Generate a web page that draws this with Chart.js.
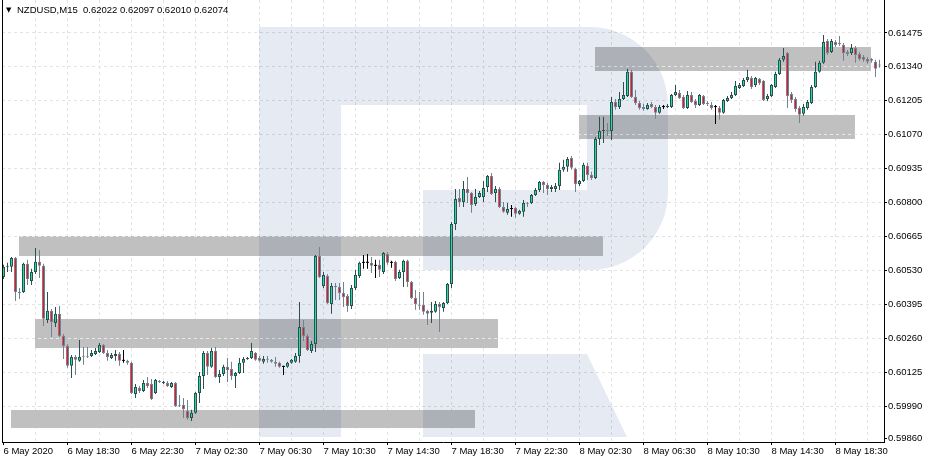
<!DOCTYPE html>
<html>
<head>
<meta charset="utf-8">
<script src="https://cdn.jsdelivr.net/npm/chart.js@4.4.1/dist/chart.umd.min.js"></script>
<style>
html,body{margin:0;padding:0;background:#fff;overflow:hidden}
canvas{display:block}
</style>
</head>
<body>
<canvas id="c" width="929" height="463" style="width:929px;height:463px"></canvas>
<script>
// ---- header text ----
const symbolTitle = 'NZDUSD,M15  0.62022 0.62097 0.62010 0.62074';

// ---- x axis: 15-minute bars, first bar 6 May 2020 14:30 ----
const xLabelBars = [0,16,32,48,64,80,96,112,128,144,160,176,192,208];
const xTickLabels = ['6 May 2020','6 May 18:30','6 May 22:30','7 May 02:30','7 May 06:30','7 May 10:30',
  '7 May 14:30','7 May 18:30','7 May 22:30','8 May 02:30','8 May 06:30','8 May 10:30','8 May 14:30','8 May 18:30'];
const xGridStep = 8;

// ---- y axis ----
const yMin = 0.59847, yMax = 0.61606;
const yTickValues = [0.59860,0.59990,0.60125,0.60260,0.60395,0.60530,0.60665,0.60800,0.60935,0.61070,0.61205,0.61340,0.61475];

// ---- candles ----
const openP = [
0.60504,0.60544,0.60544,0.60579,0.60444,0.60444,0.60556,0.60488,0.60524,0.60564,
0.60548,0.60333,0.60369,0.60321,0.60357,0.60269,0.60229,0.60150,0.60185,0.60170,
0.60189,0.60189,0.60189,0.60197,0.60205,0.60233,0.60201,0.60181,0.60189,0.60197,
0.60170,0.60170,0.60162,0.60038,0.60062,0.60050,0.60082,0.60078,0.60042,0.60090,
0.60082,0.60082,0.60066,0.60082,0.59994,0.59994,0.59971,0.59943,0.59963,0.60042,
0.60110,0.60201,0.60146,0.60209,0.60106,0.60118,0.60146,0.60138,0.60110,0.60122,
0.60162,0.60177,0.60181,0.60201,0.60181,0.60166,0.60177,0.60174,0.60166,0.60162,
0.60146,0.60146,0.60162,0.60166,0.60189,0.60305,0.60269,0.60209,0.60237,0.60587,
0.60468,0.60508,0.60396,0.60468,0.60464,0.60440,0.60428,0.60388,0.60460,0.60508,
0.60560,0.60560,0.60560,0.60548,0.60552,0.60524,0.60595,0.60560,0.60564,0.60500,
0.60524,0.60568,0.60484,0.60420,0.60392,0.60392,0.60369,0.60361,0.60365,0.60396,
0.60380,0.60400,0.60476,0.60715,0.60818,0.60802,0.60854,0.60838,0.60794,0.60822,
0.60822,0.60862,0.60906,0.60838,0.60854,0.60782,0.60759,0.60774,0.60778,0.60755,
0.60763,0.60798,0.60798,0.60830,0.60850,0.60882,0.60870,0.60854,0.60854,0.60866,
0.60930,0.60942,0.60977,0.60934,0.60874,0.60886,0.60946,0.60910,0.60898,0.61053,
0.61085,0.61089,0.61085,0.61200,0.61180,0.61212,0.61224,0.61320,0.61220,0.61196,
0.61180,0.61172,0.61192,0.61180,0.61157,0.61180,0.61180,0.61180,0.61228,0.61236,
0.61220,0.61176,0.61228,0.61204,0.61188,0.61224,0.61196,0.61188,0.61180,0.61176,
0.61157,0.61204,0.61216,0.61228,0.61256,0.61264,0.61288,0.61296,0.61268,0.61292,
0.61284,0.61212,0.61224,0.61260,0.61312,0.61368,0.61395,0.61232,0.61212,0.61176,
0.61153,0.61176,0.61196,0.61260,0.61320,0.61356,0.61443,0.61399,0.61439,0.61435,
0.61427,0.61399,0.61395,0.61415,0.61391,0.61379,0.61371,0.61371,0.61360,0.61348];
const highP = [
0.60552,0.60560,0.60583,0.60583,0.60460,0.60560,0.60572,0.60536,0.60619,0.60611,
0.60556,0.60444,0.60376,0.60384,0.60388,0.60277,0.60237,0.60193,0.60193,0.60253,
0.60225,0.60225,0.60213,0.60221,0.60241,0.60237,0.60213,0.60201,0.60213,0.60205,
0.60213,0.60174,0.60166,0.60078,0.60070,0.60094,0.60106,0.60098,0.60098,0.60094,
0.60090,0.60090,0.60086,0.60086,0.60034,0.60022,0.60014,0.59975,0.60046,0.60126,
0.60209,0.60209,0.60221,0.60225,0.60134,0.60154,0.60181,0.60166,0.60126,0.60181,
0.60185,0.60185,0.60241,0.60205,0.60189,0.60189,0.60189,0.60177,0.60185,0.60166,
0.60150,0.60166,0.60177,0.60201,0.60404,0.60333,0.60277,0.60249,0.60591,0.60623,
0.60524,0.60516,0.60480,0.60480,0.60480,0.60484,0.60436,0.60472,0.60532,0.60564,
0.60591,0.60595,0.60583,0.60572,0.60572,0.60603,0.60603,0.60568,0.60568,0.60532,
0.60572,0.60572,0.60488,0.60452,0.60444,0.60444,0.60373,0.60404,0.60408,0.60404,
0.60404,0.60480,0.60723,0.60854,0.60854,0.60886,0.60902,0.60842,0.60854,0.60846,
0.60886,0.60910,0.60918,0.60866,0.60862,0.60802,0.60798,0.60790,0.60782,0.60771,
0.60810,0.60802,0.60834,0.60858,0.60886,0.60886,0.60878,0.60870,0.60878,0.60958,
0.60970,0.60981,0.60985,0.60938,0.60890,0.60958,0.60958,0.60922,0.61061,0.61141,
0.61141,0.61117,0.61220,0.61212,0.61240,0.61280,0.61332,0.61328,0.61248,0.61204,
0.61192,0.61196,0.61200,0.61188,0.61188,0.61188,0.61192,0.61232,0.61268,0.61248,
0.61228,0.61244,0.61240,0.61212,0.61232,0.61228,0.61204,0.61200,0.61188,0.61184,
0.61212,0.61224,0.61240,0.61284,0.61276,0.61296,0.61328,0.61304,0.61300,0.61296,
0.61288,0.61232,0.61272,0.61320,0.61375,0.61415,0.61399,0.61240,0.61220,0.61184,
0.61192,0.61208,0.61268,0.61360,0.61364,0.61467,0.61451,0.61451,0.61447,0.61463,
0.61435,0.61407,0.61431,0.61423,0.61399,0.61387,0.61379,0.61375,0.61368,0.61368];
const lowP = [
0.60496,0.60524,0.60524,0.60408,0.60416,0.60440,0.60472,0.60472,0.60516,0.60500,
0.60309,0.60321,0.60265,0.60305,0.60265,0.60177,0.60142,0.60102,0.60114,0.60166,
0.60154,0.60181,0.60185,0.60193,0.60201,0.60197,0.60170,0.60177,0.60170,0.60150,
0.60162,0.60154,0.60038,0.60022,0.60042,0.60046,0.60062,0.60014,0.60038,0.60082,
0.60078,0.60066,0.60062,0.59986,0.59986,0.59943,0.59935,0.59931,0.59959,0.60002,
0.60058,0.60114,0.60142,0.60102,0.60082,0.60110,0.60086,0.60094,0.60062,0.60118,
0.60122,0.60174,0.60177,0.60170,0.60166,0.60158,0.60162,0.60162,0.60146,0.60142,
0.60114,0.60142,0.60158,0.60162,0.60162,0.60249,0.60209,0.60201,0.60205,0.60500,
0.60460,0.60396,0.60357,0.60412,0.60412,0.60384,0.60365,0.60376,0.60452,0.60500,
0.60536,0.60536,0.60520,0.60500,0.60504,0.60516,0.60552,0.60540,0.60488,0.60496,
0.60464,0.60464,0.60416,0.60373,0.60373,0.60353,0.60313,0.60321,0.60361,0.60285,
0.60365,0.60396,0.60460,0.60691,0.60782,0.60782,0.60798,0.60759,0.60786,0.60818,
0.60802,0.60842,0.60830,0.60802,0.60778,0.60759,0.60751,0.60743,0.60739,0.60751,
0.60743,0.60782,0.60794,0.60826,0.60842,0.60838,0.60830,0.60842,0.60842,0.60850,
0.60922,0.60922,0.60930,0.60842,0.60866,0.60882,0.60890,0.60890,0.60894,0.61029,
0.61037,0.61065,0.61049,0.61169,0.61172,0.61208,0.61220,0.61216,0.61188,0.61169,
0.61165,0.61169,0.61176,0.61133,0.61153,0.61172,0.61176,0.61176,0.61224,0.61212,
0.61172,0.61172,0.61196,0.61176,0.61184,0.61188,0.61184,0.61169,0.61113,0.61129,
0.61153,0.61200,0.61212,0.61224,0.61252,0.61260,0.61280,0.61252,0.61260,0.61268,
0.61204,0.61204,0.61220,0.61256,0.61308,0.61360,0.61176,0.61196,0.61161,0.61117,
0.61145,0.61169,0.61192,0.61256,0.61316,0.61352,0.61387,0.61395,0.61419,0.61423,
0.61364,0.61383,0.61387,0.61356,0.61364,0.61360,0.61352,0.61356,0.61300,0.61336];
const closeP = [
0.60544,0.60548,0.60579,0.60444,0.60440,0.60556,0.60496,0.60524,0.60564,0.60548,
0.60337,0.60369,0.60325,0.60357,0.60269,0.60229,0.60150,0.60185,0.60174,0.60185,
0.60186,0.60186,0.60201,0.60209,0.60233,0.60201,0.60185,0.60193,0.60197,0.60170,
0.60170,0.60162,0.60042,0.60066,0.60050,0.60082,0.60070,0.60018,0.60094,0.60086,
0.60086,0.60070,0.60082,0.59990,0.59991,0.59978,0.59943,0.59963,0.60042,0.60110,
0.60201,0.60146,0.60209,0.60106,0.60118,0.60146,0.60134,0.60110,0.60122,0.60162,
0.60177,0.60181,0.60209,0.60174,0.60170,0.60177,0.60174,0.60166,0.60158,0.60146,
0.60146,0.60162,0.60174,0.60189,0.60305,0.60269,0.60213,0.60237,0.60587,0.60504,
0.60512,0.60400,0.60468,0.60464,0.60440,0.60424,0.60388,0.60460,0.60512,0.60560,
0.60560,0.60560,0.60548,0.60548,0.60532,0.60599,0.60560,0.60560,0.60496,0.60524,
0.60568,0.60484,0.60420,0.60396,0.60389,0.60365,0.60357,0.60369,0.60396,0.60384,
0.60400,0.60476,0.60715,0.60814,0.60802,0.60854,0.60838,0.60790,0.60822,0.60838,
0.60858,0.60906,0.60834,0.60854,0.60782,0.60763,0.60774,0.60774,0.60755,0.60767,
0.60798,0.60795,0.60830,0.60850,0.60882,0.60870,0.60854,0.60862,0.60866,0.60930,
0.60942,0.60973,0.60938,0.60874,0.60886,0.60950,0.60910,0.60898,0.61053,0.61085,
0.61089,0.61085,0.61200,0.61180,0.61212,0.61228,0.61320,0.61220,0.61196,0.61176,
0.61172,0.61188,0.61180,0.61157,0.61180,0.61180,0.61184,0.61228,0.61240,0.61216,
0.61176,0.61228,0.61200,0.61188,0.61228,0.61192,0.61192,0.61176,0.61180,0.61157,
0.61208,0.61216,0.61228,0.61264,0.61268,0.61288,0.61300,0.61260,0.61296,0.61276,
0.61208,0.61224,0.61268,0.61312,0.61368,0.61383,0.61224,0.61208,0.61172,0.61149,
0.61180,0.61200,0.61260,0.61320,0.61356,0.61439,0.61395,0.61443,0.61427,0.61431,
0.61395,0.61391,0.61415,0.61387,0.61371,0.61368,0.61360,0.61364,0.61332,0.61345];

// ---- support / resistance zones (bar index span, price span) ----
const zoneStart = [3.875, 7.875, 1.875, 147.9, 143.9];
const zoneEnd   = [149.875, 123.6, 117.9, 216.9, 212.9];
const zoneHigh  = [0.60667, 0.60337, 0.59975, 0.61419, 0.61149];
const zoneLow   = [0.60587, 0.60221, 0.59903, 0.61324, 0.61053];

// ---- styling ----
const FONT = '"Liberation Sans", Arial, sans-serif';
const BULL_FILL = '#19e0a6', BULL_LINE = '#2f4f4f';
const BEAR_FILL = '#e8141e', BEAR_LINE = '#738291';
const DOJI = '#000000';
const GRID = '#e3e3e3';

const idx = openP.map((_, i) => i);
const dir = idx.map(i => closeP[i] > openP[i] ? 1 : (closeP[i] < openP[i] ? -1 : 0));
const wickData = idx.map(i => ({x: i, y: [lowP[i], highP[i]]}));
const bodyData = idx.map(i => ({x: i, y: [Math.min(openP[i], closeP[i]), Math.max(openP[i], closeP[i])]}));
const lineColor = i => dir[i] > 0 ? BULL_LINE : (dir[i] < 0 ? BEAR_LINE : DOJI);
const fillColor = i => dir[i] > 0 ? BULL_FILL : (dir[i] < 0 ? BEAR_FILL : DOJI);

const xGridTicks = [];
for (let v = 0; v <= 219; v += xGridStep) xGridTicks.push(v);

function alignPx(p) { return Math.round(p - 0.5) + 0.5; }

const backgroundPlugin = {
  id: 'bgObjects',
  beforeDatasetsDraw(chart) {
    const {ctx, chartArea: a, scales: {x, y}} = chart;
    ctx.save();
    ctx.beginPath();
    ctx.rect(a.left, a.top, a.right - a.left, a.bottom - a.top);
    ctx.clip();
    // zones
    zoneStart.forEach((s, k) => {
      const x1 = Math.round(x.getPixelForValue(s));
      const x2 = Math.round(x.getPixelForValue(zoneEnd[k]));
      const y1 = Math.round(y.getPixelForValue(zoneHigh[k]));
      const y2 = Math.round(y.getPixelForValue(zoneLow[k]));
      ctx.fillStyle = '#c0c0c0';
      ctx.fillRect(x1, y1, x2 - x1, y2 - y1);
      ctx.save();
      ctx.beginPath();
      ctx.rect(x1, y1, x2 - x1, y2 - y1);
      ctx.clip();
      ctx.strokeStyle = '#e9e9e9';
      ctx.lineWidth = 1;
      ctx.setLineDash([3, 3]);
      yTickValues.forEach((v, j) => {
        if (j === 0) return;
        const py = alignPx(y.getPixelForValue(v));
        ctx.beginPath();
        ctx.moveTo(a.left, py);
        ctx.lineTo(a.right, py);
        ctx.stroke();
      });
      ctx.restore();
    });
    // watermark logo (multiply blend)
    ctx.globalCompositeOperation = 'multiply';
    ctx.fillStyle = '#e6ebf3';
    ctx.beginPath();
    ctx.rect(259, 27, 82, 410);
    ctx.moveTo(340, 27);
    ctx.lineTo(590, 27);
    ctx.arcTo(668, 27, 668, 105, 78);
    ctx.lineTo(668, 192);
    ctx.arcTo(668, 270, 590, 270, 78);
    ctx.lineTo(423, 270);
    ctx.lineTo(423, 190);
    ctx.lineTo(587, 190);
    ctx.lineTo(587, 105);
    ctx.lineTo(340, 105);
    ctx.closePath();
    ctx.moveTo(423, 354);
    ctx.lineTo(587, 354);
    ctx.lineTo(627, 437);
    ctx.lineTo(423, 437);
    ctx.closePath();
    ctx.fill();
    ctx.restore();
  },
  afterDraw(chart) {
    const {ctx, chartArea: a} = chart;
    ctx.save();
    ctx.fillStyle = '#000';
    ctx.fillRect(2, 0, 1, a.bottom + 1);
    ctx.font = '7px "DejaVu Sans", sans-serif';
    ctx.textBaseline = 'middle';
    ctx.fillText('▼', 6, 10);
    ctx.font = '9.5px ' + FONT;
    ctx.fillText(symbolTitle, 17, 10);
    ctx.restore();
  }
};

new Chart(document.getElementById('c'), {
  type: 'bar',
  data: {
    datasets: [
      {
        label: 'wick', data: wickData, order: 2, grouped: false,
        barThickness: 1, maxBarThickness: 1, minBarLength: 1,
        backgroundColor: c => lineColor(c.dataIndex), borderWidth: 0, inflateAmount: 0
      },
      {
        label: 'body', data: bodyData, order: 1, grouped: false,
        barThickness: 3, maxBarThickness: 3, minBarLength: 1,
        backgroundColor: c => fillColor(c.dataIndex),
        borderColor: c => lineColor(c.dataIndex),
        borderWidth: c => dir[c.dataIndex] === 0 ? 0 : 1,
        borderSkipped: false, inflateAmount: 0
      }
    ]
  },
  options: {
    responsive: false,
    devicePixelRatio: 1,
    animation: false,
    events: [],
    layout: {padding: {left: 2, right: 0, top: 0, bottom: 0}},
    plugins: {legend: {display: false}, tooltip: {enabled: false}, title: {display: false}},
    scales: {
      x: {
        type: 'linear', min: -0.375, max: 220.125, offset: false,
        afterBuildTicks: s => { s.ticks = xGridTicks.map(v => ({value: v})); },
        afterFit: s => { s.height = 21; s.paddingLeft = 0; s.paddingRight = 0; },
        ticks: {
          autoSkip: false, maxRotation: 0, minRotation: 0, align: 'start', padding: 1,
          color: '#000', font: {family: FONT, size: 9.5},
          callback: v => { const k = xLabelBars.indexOf(v); return k >= 0 ? xTickLabels[k] : ''; }
        },
        grid: {
          offset: false, lineWidth: 1, drawTicks: true, tickLength: 3, tickWidth: 1,
          color: c => (c.tick && c.tick.value === 0) ? 'rgba(0,0,0,0)' : GRID,
          tickColor: c => (c.tick && xLabelBars.includes(c.tick.value)) ? '#000' : 'rgba(0,0,0,0)'
        },
        border: {display: true, color: '#000', width: 1, dash: [3, 3]}
      },
      y: {
        type: 'linear', position: 'right', min: yMin, max: yMax, beginAtZero: false,
        afterBuildTicks: s => { s.ticks = yTickValues.map(v => ({value: v})); },
        afterFit: s => { s.width = 45; s.paddingTop = 0; s.paddingBottom = 0; },
        ticks: {
          padding: 1, color: '#000', font: {family: FONT, size: 9.5},
          callback: v => Number(v).toFixed(5)
        },
        grid: {
          lineWidth: 1, drawTicks: true, tickLength: 3, tickWidth: 1, tickColor: '#000',
          color: c => c.index === 0 ? 'rgba(0,0,0,0)' : GRID
        },
        border: {display: true, color: '#000', width: 1, dash: [3, 3]}
      }
    }
  },
  plugins: [backgroundPlugin]
});
</script>
</body>
</html>
